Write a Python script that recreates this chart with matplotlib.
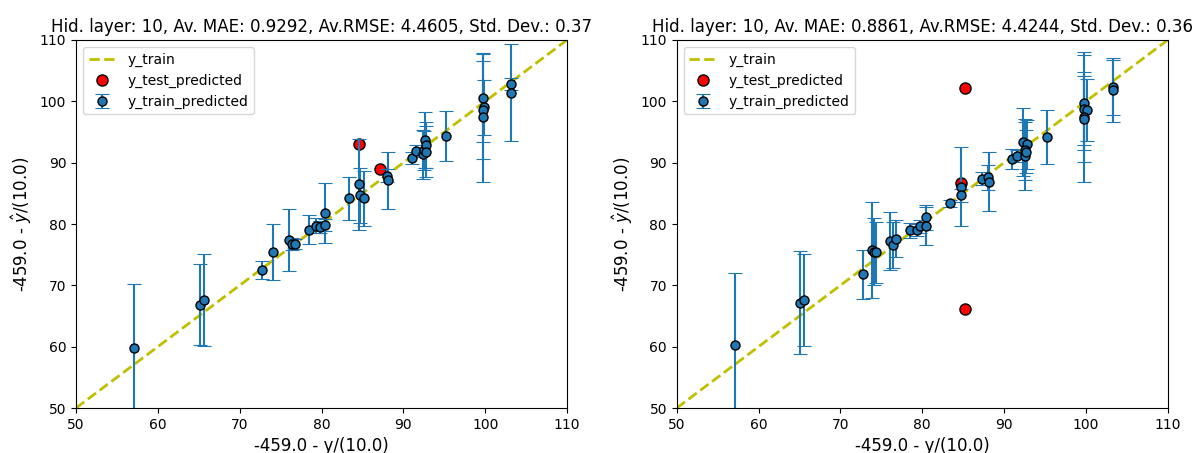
import matplotlib
matplotlib.use('Agg')
import matplotlib.pyplot as plt

# Panel 1 (left)
x_train_1 = [57.1, 65.1, 65.6, 72.7, 74.1, 76.05, 76.4, 76.8, 78.5, 79.3, 79.8,
             80.45, 80.45, 83.4, 84.6, 84.65, 85.2, 88.0, 88.1, 91.0, 91.6,
             92.4, 92.55, 92.7, 92.75, 92.8, 95.2, 99.7, 99.9, 99.7, 99.7,
             103.2, 103.2]
y_pred_1 = [59.75, 66.8, 67.6, 72.5, 75.4, 77.4, 76.8, 76.8, 79.1, 79.7, 79.5,
            81.8, 79.8, 84.2, 86.5, 84.7, 84.2, 87.9, 87.1, 90.8, 91.9,
            91.4, 92.0, 93.7, 92.9, 91.8, 94.3, 100.5, 99.0, 98.6, 97.4,
            102.8, 101.4]
err_1 = [10.4, 6.6, 7.5, 1.4, 4.6, 5.0, 1.0, 0.8, 2.4, 1.2, 1.0,
         4.9, 1.0, 3.5, 7.4, 4.5, 4.5, 1.0, 4.7, 1.0, 1.0,
         4.0, 3.2, 4.5, 3.8, 4.2, 4.1, 7.2, 4.5, 8.0, 10.5,
         1.0, 7.9]
x_test_1 = [84.6, 87.2]
y_test_1 = [93.0, 88.9]
title_1 = 'Hid. layer: 10, Av. MAE: 0.9292, Av.RMSE: 4.4605, Std. Dev.: 0.37'

# Panel 2 (right)
x_train_2 = [57.1, 65.1, 65.6, 72.8, 73.8, 74.1, 74.3, 76.05, 76.4, 76.8, 78.55,
             79.4, 79.7, 80.5, 80.5, 83.45, 84.7, 84.7, 87.3, 88.0, 88.2,
             91.0, 91.6, 92.3, 92.8, 92.6, 92.5, 92.7, 95.3, 99.8, 99.8,
             100.1, 99.8, 99.8, 103.3, 103.3]
y_pred_2 = [60.2, 67.2, 67.6, 71.8, 75.8, 75.5, 75.4, 77.25, 76.6, 77.6, 79.0,
            79.0, 79.6, 81.1, 79.75, 83.35, 86.1, 84.65, 87.4, 87.6, 86.9,
            90.6, 91.1, 93.4, 93.0, 92.1, 91.1, 91.8, 94.2, 99.8, 98.8,
            98.6, 97.4, 97.1, 102.3, 101.9]
err_2 = [11.8, 8.4, 7.5, 4.0, 7.8, 5.4, 5.0, 4.7, 3.8, 3.0, 1.2,
         1.0, 1.0, 2.0, 3.1, 0.5, 6.5, 1.0, 1.0, 2.0, 4.8,
         1.6, 1.0, 5.5, 4.0, 5.0, 5.5, 3.5, 4.4, 7.8, 6.0,
         5.0, 10.6, 7.0, 4.5, 5.2]
x_test_2 = [84.7, 85.2, 85.2]
y_test_2 = [86.7, 102.2, 66.2]
title_2 = 'Hid. layer: 10, Av. MAE: 0.8861, Av.RMSE: 4.4244, Std. Dev.: 0.36'

lims = [50, 110]


def panel(ax, x_train, y_pred, err, x_test, y_test, title):
    # Ideal line
    ax.plot(lims, lims, 'y--', lw=2, label='y_train')
    # Test points
    ax.plot(x_test, y_test, 'o', color='r', mec='k', ms=8,
            label='y_test_predicted')
    # Train points with error bars
    ax.errorbar(x_train, y_pred, yerr=err, fmt='o', color='C0', mec='k',
                ms=6.5, capsize=5, capthick=0.8, elinewidth=1.5,
                label='y_train_predicted')
    ax.set_xlim(lims)
    ax.set_ylim(lims)
    ax.set_xlabel('-459.0 - y/(10.0)', fontsize=12)
    ax.set_ylabel(r'-459.0 - $\hat{y}$/(10.0)', fontsize=12)
    ax.set_title(title, fontsize=12)
    ax.legend(loc='upper left')


fig = plt.figure(figsize=(11.95, 4.53), dpi=100)
ax1 = fig.add_axes([0.0636, 0.0993, 0.4109, 0.8124])
ax2 = fig.add_axes([0.5663, 0.0993, 0.4109, 0.8124])
panel(ax1, x_train_1, y_pred_1, err_1, x_test_1, y_test_1, title_1)
panel(ax2, x_train_2, y_pred_2, err_2, x_test_2, y_test_2, title_2)

fig.savefig('out.png', dpi=100)
